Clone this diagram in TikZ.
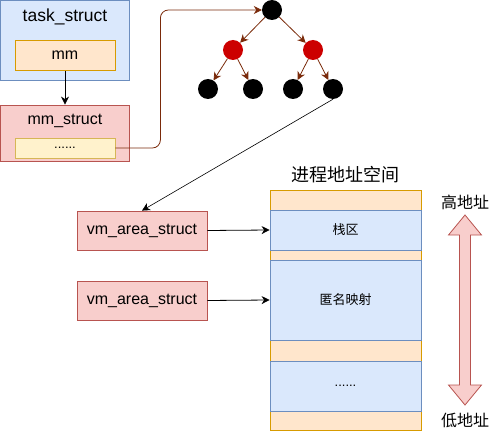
\documentclass[tikz,border=0pt]{standalone}
\usepackage{fontspec}
\setmainfont{Liberation Sans}
\newfontfamily\cjk{Noto Sans CJK SC}
\usetikzlibrary{arrows.meta,positioning}
\definecolor{tBlue}{HTML}{DAE8FC}
\definecolor{tBlueD}{HTML}{6C8EBF}
\definecolor{tOrange}{HTML}{FFE6CC}
\definecolor{tOrangeD}{HTML}{D79B00}
\definecolor{tPink}{HTML}{F8CECC}
\definecolor{tPinkD}{HTML}{B85450}
\definecolor{tYellow}{HTML}{FFF2CC}
\definecolor{tYellowD}{HTML}{D6B656}
\definecolor{tRed}{HTML}{CC0000}
\definecolor{tBrown}{HTML}{7A2A0A}
\newcommand{\fsL}{\fontsize{17.5pt}{20pt}\selectfont}
\newcommand{\fsM}{\fontsize{16pt}{19pt}\selectfont}
\newcommand{\fsS}{\fontsize{13pt}{16pt}\selectfont}
\tikzset{
  box/.style={draw,line width=0.8pt,inner sep=0pt},
  outer/.style={box,fill=tBlue,draw=tBlueD},
  field/.style={box,fill=tOrange,draw=tOrangeD,font=\fsM},
  vmbox/.style={box,fill=tPink,draw=tPinkD,font=\fsM,minimum width=130pt,minimum height=39pt},
  seg/.style={box,minimum width=151pt,font=\fsS\cjk},
  gap/.style={seg,fill=tOrange,draw=tOrangeD},
  area/.style={seg,fill=tBlue,draw=tBlueD},
  bnode/.style={circle,fill=black,minimum size=20pt,inner sep=0pt},
  rnode/.style={circle,fill=tRed,minimum size=20pt,inner sep=0pt},
  link/.style={line width=0.8pt,-{Stealth[length=8pt,width=8pt,inset=2.5pt]}},
  tlink/.style={link,tBrown},
}

\begin{document}
\begin{tikzpicture}[x=1pt,y=-1pt]
  \useasboundingbox (0,0) rectangle (501,436);
  % ---------------- task_struct / mm_struct ----------------
  \node[outer,minimum width=129pt,minimum height=80pt] (task) at (65,40) {};
  \node[font=\fsL] (taskT) at (65,17) {task\_struct};
  \node[field,minimum width=100pt,minimum height=30pt] (mm) at (65,55.5) {mm};
  \node[box,fill=tPink,draw=tPinkD,minimum width=129pt,minimum height=56pt] (mms) at (65,133) {};
  \node[font=\fsM] (mmsT) at (65,121) {mm\_struct};
  \node[box,fill=tYellow,draw=tYellowD,minimum width=100pt,minimum height=20pt,font=\fsS] (dots) at (65,148) {......};
  \draw[link] (mm.south) -- (mms.north);
  % ---------------- red-black tree ----------------
  \node[bnode] (root) at (272,10) {};
  \node[rnode] (ra) at (233,50) {};
  \node[rnode] (rb) at (313,50) {};
  \node[bnode] (la) at (208,89) {};
  \node[bnode] (lb) at (253,89) {};
  \node[bnode] (lc) at (293,89) {};
  \node[bnode] (ld) at (333,89) {};
  \draw[tlink,rounded corners=8pt] (dots.east) -- ++(45,0) |- (root.west);
  \draw[tlink] (root) -- (ra);
  \draw[tlink] (root) -- (rb);
  \draw[tlink] (ra) -- (la);
  \draw[tlink] (ra) -- (lb);
  \draw[tlink] (rb) -- (lc);
  \draw[tlink] (rb) -- (ld);
  % ---------------- vm areas ----------------
  \node[vmbox] (vm1) at (142,230.5) {vm\_area\_struct};
  \node[vmbox] (vm2) at (142,300.5) {vm\_area\_struct};
  \draw[link,line width=0.6pt] (ld.south) -- (vm1.north);
  % ---------------- address space ----------------
  \node[font=\fontsize{18pt}{21pt}\selectfont\cjk] (title) at (345.5,175) {进程地址空间};
  \node[gap,minimum height=20pt] (g1) at (345.5,200) {};
  \node[gap,minimum height=10pt] (g2) at (345.5,255) {};
  \node[gap,minimum height=21pt] (g3) at (345.5,350.5) {};
  \node[gap,minimum height=19pt] (g4) at (345.5,420.5) {};
  \node[area,minimum height=40pt] (stack) at (345.5,230) {栈区};
  \node[area,minimum height=80pt] (anon) at (345.5,300) {匿名映射};
  \node[area,minimum height=50pt,font=\fsS] (more) at (345.5,386) {......};
  \draw[link] (vm1.east) -- (stack.west);
  \draw[link] (vm2.east) -- (anon.west);
  % ---------------- high / low ----------------
  \node[font=\fsM\cjk] (high) at (465,202) {高地址};
  \node[font=\fsM\cjk] (low) at (465,420) {低地址};
  \draw[line width=0.8pt,fill=tPink,draw=tPinkD]
    (465,215) -- (481.5,235) -- (470.5,235) -- (470.5,385) -- (481.5,385)
    -- (465,405) -- (448.5,385) -- (459.5,385) -- (459.5,235) -- (448.5,235) -- cycle;
\end{tikzpicture}
\end{document}
